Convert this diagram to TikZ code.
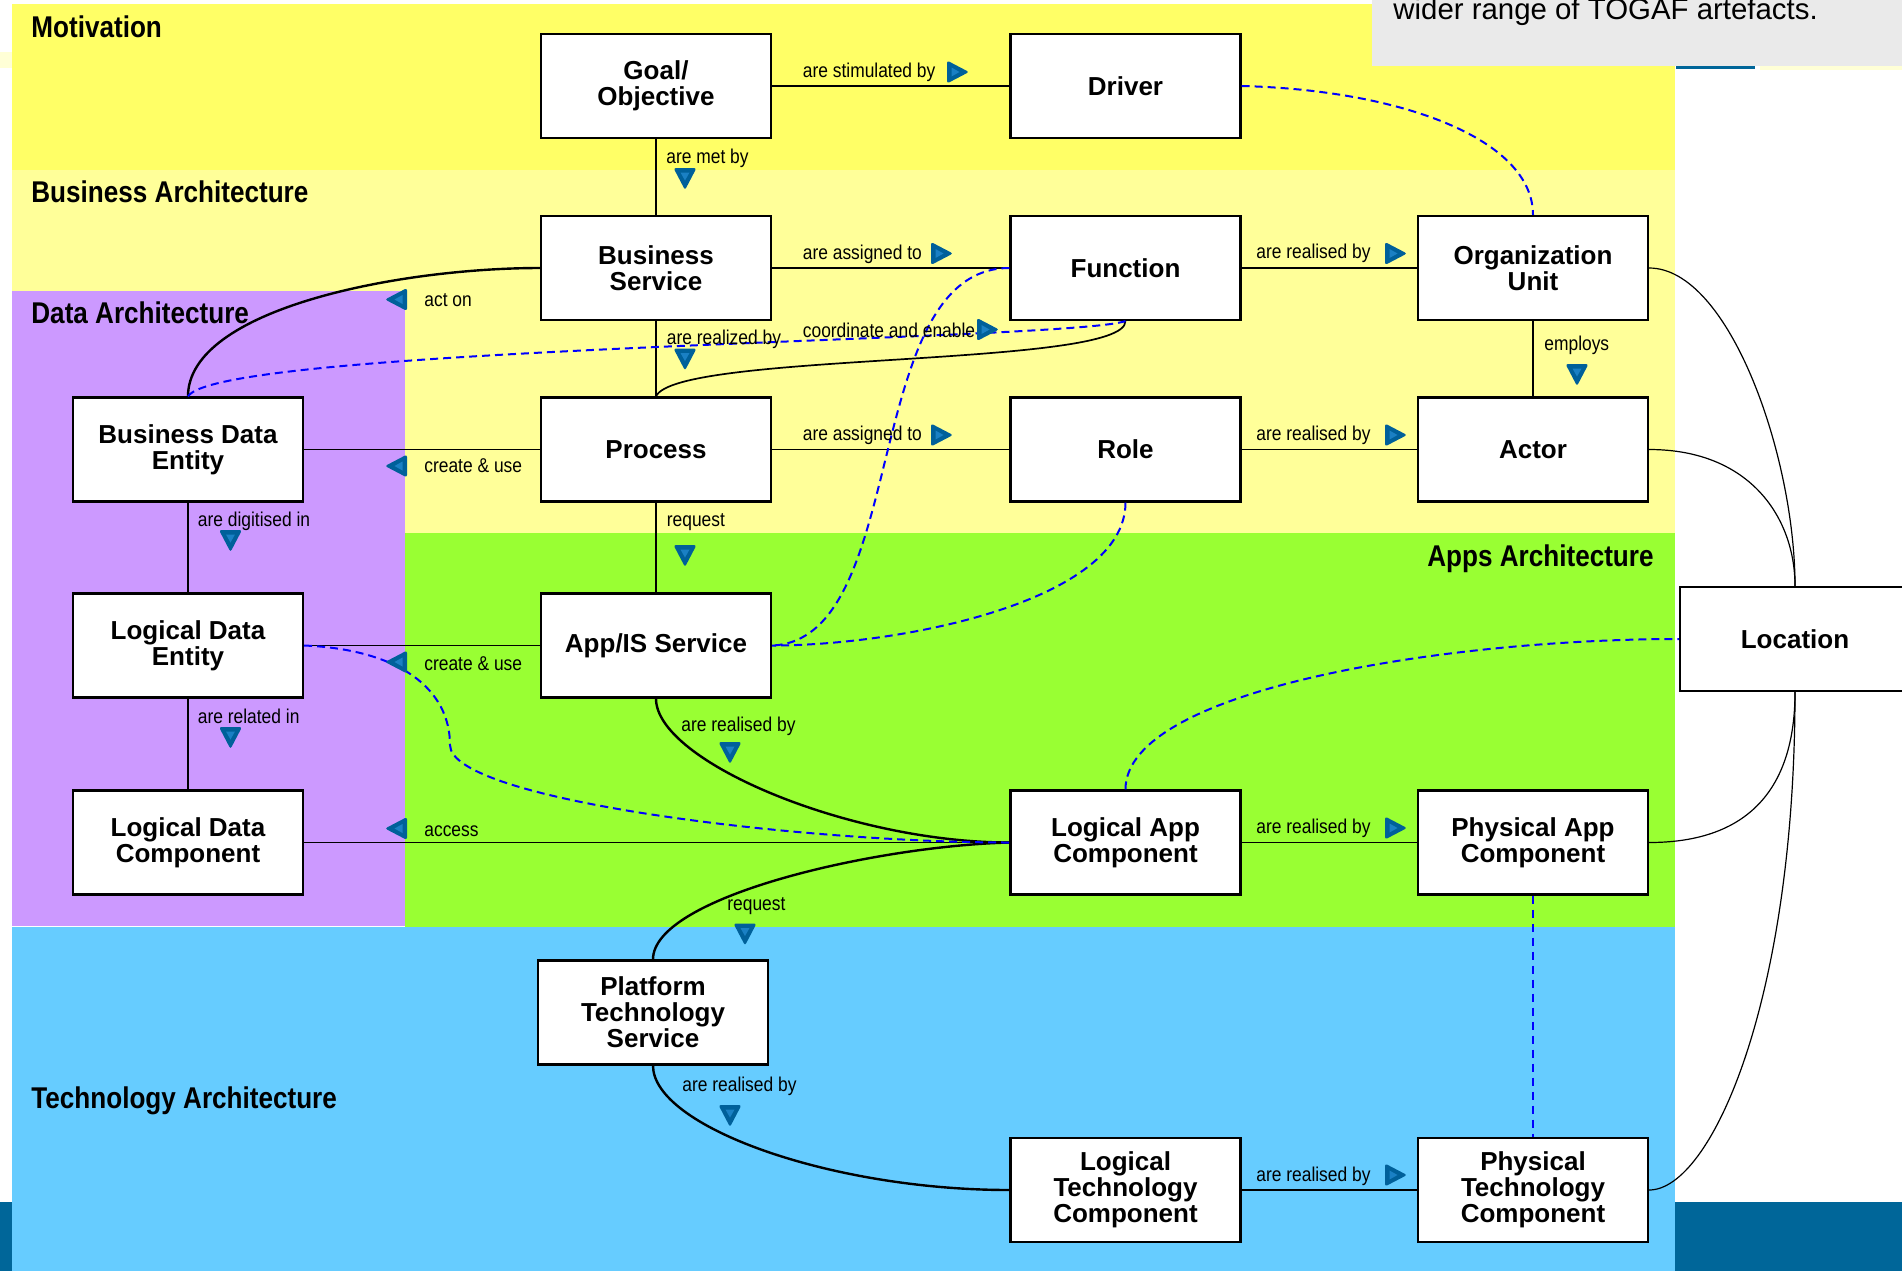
\documentclass[tikz,border=0pt]{standalone}
\usepackage{fontspec}
\setmainfont{Liberation Sans}
\newfontfamily\narrowsans[FakeStretch=0.87]{Liberation Sans}

\definecolor{motiv}{HTML}{FFFF66}
\definecolor{busi}{HTML}{FFFF99}
\definecolor{datap}{HTML}{CC99FF}
\definecolor{appg}{HTML}{99FF33}
\definecolor{techb}{HTML}{66CCFF}
\definecolor{deepblue}{HTML}{006699}
\definecolor{notegrey}{HTML}{EAEAEA}
\definecolor{paleyellow}{HTML}{FFFFD6}
\definecolor{traceblue}{HTML}{0000FF}
\definecolor{tridark}{HTML}{00609A}
\definecolor{trilight}{HTML}{1A80C4}

\begin{document}
\begin{tikzpicture}[x=0.5pt,y=-0.5pt,
  box/.style={draw=black,line width=1.1pt,fill=white,minimum width=115pt,
    minimum height=52pt,align=center,inner sep=2pt,
    font=\bfseries\fontsize{13}{13}\selectfont},
  link/.style={draw=black,line width=0.75pt},
  midlink/.style={draw=black,line width=0.85pt},
  heavylink/.style={draw=black,line width=1.2pt},
  lightlink/.style={draw=black,line width=0.6pt},
  trace/.style={draw=traceblue,line width=1pt,dash pattern=on 4pt off 2.5pt},
  tracethin/.style={draw=traceblue,line width=0.7pt,dash pattern=on 4pt off 3pt},
  lbl/.style={anchor=base west,inner sep=0pt,text=black,
    font=\narrowsans\fontsize{10}{12}\selectfont},
  title/.style={anchor=base west,inner sep=0pt,text=black,
    font=\narrowsans\bfseries\fontsize{15}{18}\selectfont},
  flowtri/.pic={
    \fill[tridark,rounded corners=1.2pt] (-10,-11.5) -- (12,0) -- (-10,11.5) -- cycle;
    \fill[trilight] (-5.5,-4.5) -- (2.5,0) -- (-5.5,4.5) -- cycle;
  }
]
\useasboundingbox (0,0) rectangle (1902,1271);
\clip (0,0) rectangle (1902,1271);

% ---- layer bands ----
\fill[white] (0,0) rectangle (1902,1271);
\fill[deepblue] (0,1202) rectangle (1902,1271);
\fill[motiv] (12,4) rectangle (1675,170);
\fill[busi] (12,170) rectangle (1675,533);
\fill[datap] (12,291) rectangle (405,926);
\fill[appg] (405,533) rectangle (1675,927);
\fill[techb] (12,927) rectangle (1675,1271);
\draw[white,line width=0.6pt] (12,926.5) -- (405,926.5);
\fill[paleyellow] (0,52) rectangle (12,68);

% ---- note box ----
\fill[notegrey] (1372,0) rectangle (1902,66);
\fill[deepblue] (1676,66) rectangle (1755,68.5);
\fill[paleyellow] (1760,66) rectangle (1902,70);
\node[anchor=base west,inner sep=0pt,font=\fontsize{14.7}{16}\selectfont] (note)
  at (1393,19.5) {wider range of TOGAF artefacts.};

% ---- band titles ----
\node[title] (tmot) at (31,37.5) {Motivation};
\node[title] (tbus) at (31,202.5) {Business Architecture};
\node[title] (tdat) at (31,323.5) {Data Architecture};
\node[title,anchor=base east] (tapp) at (1654,566) {Apps Architecture};
\node[title] (ttec) at (31,1108) {Technology Architecture};

% ---- entities ----
\node[box] (goal)   at (656,86)      {Goal/\\Objective};
\node[box] (driver) at (1125.5,86)   {Driver};
\node[box] (bs)     at (656,268)     {Business\\Service};
\node[box] (func)   at (1125.5,268)  {Function};
\node[box] (org)    at (1533,268)    {Organization\\Unit};
\node[box] (bde)    at (188,449.5)   {Business Data\\Entity};
\node[box] (proc)   at (656,449.5)   {Process};
\node[box] (role)   at (1125.5,449.5){Role};
\node[box] (actor)  at (1533,449.5)  {Actor};
\node[box] (lde)    at (188,645.5)   {Logical Data\\Entity};
\node[box] (app)    at (656,645.5)   {App/IS Service};
\node[box] (loc)    at (1795,639)    {Location};
\node[box] (ldc)    at (188,842.5)   {Logical Data\\Component};
\node[box] (lac)    at (1125.5,842.5){Logical App\\Component};
\node[box] (pac)    at (1533,842.5)  {Physical App\\Component};
\node[box] (pts)    at (653,1012.5)  {Platform\\Technology\\Service};
\node[box] (ltc)    at (1125.5,1190) {Logical\\Technology\\Component};
\node[box] (ptc)    at (1533,1190)   {Physical\\Technology\\Component};

% ---- straight relations ----
\draw[link] (goal) -- (driver);
\draw[link] (goal) -- (bs);
\draw[link] (bs) -- (func);
\draw[link] (func) -- (org);
\draw[link] (org) -- (actor);
\draw[link] (bs) -- (proc);
\draw[link] (proc) -- (bde);
\draw[link] (proc) -- (role);
\draw[link] (role) -- (actor);
\draw[link] (bde) -- (lde);
\draw[link] (proc) -- (app);
\draw[link] (app) -- (lde);
\draw[link] (lde) -- (ldc);
\draw[link] (lac) -- (ldc);
\draw[link] (lac) -- (pac);
\draw[link] (ltc) -- (ptc);

% ---- curved relations ----
\draw[heavylink] (bs.west) .. controls +(-141,0) and +(0,-87.5) .. (bde.north);
\draw[midlink] (proc.north) .. controls +(20,-45) and +(0,47) .. (func.south);
\draw[heavylink] (app.south) .. controls +(0,62.5) and +(-160,0) .. (lac.west);
\draw[heavylink] (lac.west) .. controls +(-135,3.5) and +(0,-62.5) .. (pts.north);
\draw[heavylink] (pts.south) .. controls +(0,60.5) and +(-180,0) .. (ltc.west);

% ---- location links ----
\draw[lightlink] (org.east) .. controls +(80,0) and +(0,-130) .. (loc.north);
\draw[lightlink] (actor.east) .. controls +(102,0) and +(0,-67) .. (loc.north);
\draw[lightlink] (pac.east) .. controls +(112,0) and +(0,82) .. (loc.south);
\draw[lightlink] (ptc.east) .. controls +(62,0) and +(0,309) .. (loc.south);

% ---- traceability (dashed) ----
\draw[trace] (driver.east) .. controls +(159,4) and +(0,-76) .. (org.north);
\draw[trace] (bde.north) .. controls +(30,-50) and +(-60,20) .. (func.south);
\draw[trace] (func.west) .. controls +(-150,0) and +(139,-5.5) .. (app.east);
\draw[trace] (role.south) .. controls +(0,98.5) and +(128.5,0) .. (app.east);
\draw[trace] (lde.east) .. controls +(97,4) and +(0,-55) .. (450,745)
  .. controls +(0,55) and +(-210,0) .. (lac.west);
\draw[trace] (lac.north) .. controls +(0,-100.5) and +(-230,0) .. (loc.west);
\draw[tracethin] (pac) -- (ptc);

% ---- relation labels ----
\node[lbl] (l1)  at (802.5,77.5)  {are stimulated by};
\node[lbl] (l2)  at (666,163.5)   {are met by};
\node[lbl] (l3)  at (802.5,259)   {are assigned to};
\node[lbl] (l4)  at (1256,258.5)  {are realised by};
\node[lbl] (l5)  at (1544,350)    {employs};
\node[lbl] (l6)  at (424,306.5)   {act on};
\node[lbl] (l7)  at (666.5,344.5) {are realized by};
\node[lbl] (l8)  at (802.5,337.5) {coordinate and enable};
\node[lbl] (l9)  at (424,472.5)   {create \& use};
\node[lbl] (l10) at (802.5,440.5) {are assigned to};
\node[lbl] (l11) at (1256,440.5)  {are realised by};
\node[lbl] (l12) at (197.5,526)   {are digitised in};
\node[lbl] (l13) at (666.5,526)   {request};
\node[lbl] (l14) at (424,670)     {create \& use};
\node[lbl] (l15) at (197.5,723.5) {are related in};
\node[lbl] (l16) at (681,731.5)   {are realised by};
\node[lbl] (l17) at (424,836.5)   {access};
\node[lbl] (l18) at (1256,833.5)  {are realised by};
\node[lbl] (l19) at (727,910.5)   {request};
\node[lbl] (l20) at (682,1091.5)  {are realised by};
\node[lbl] (l21) at (1256,1181.5) {are realised by};

% ---- direction markers ----
\pic at (957,72) {flowtri};
\pic[rotate=-90] at (685,178) {flowtri};
\pic at (941,253.5) {flowtri};
\pic at (1395,253.5) {flowtri};
\pic[rotate=-90] at (1577,374) {flowtri};
\pic[rotate=180] at (397,299.5) {flowtri};
\pic[rotate=-90] at (685,358.5) {flowtri};
\pic at (987,329.5) {flowtri};
\pic[rotate=180] at (397,466) {flowtri};
\pic at (941,435) {flowtri};
\pic at (1395,435) {flowtri};
\pic[rotate=-90] at (230.5,540) {flowtri};
\pic[rotate=-90] at (685,555) {flowtri};
\pic[rotate=180] at (397,662) {flowtri};
\pic[rotate=-90] at (230.5,737) {flowtri};
\pic[rotate=-90] at (730,752) {flowtri};
\pic[rotate=180] at (397,828.5) {flowtri};
\pic at (1395,828) {flowtri};
\pic[rotate=-90] at (745,933.5) {flowtri};
\pic[rotate=-90] at (730,1115) {flowtri};
\pic at (1395,1175) {flowtri};
\end{tikzpicture}
\end{document}
